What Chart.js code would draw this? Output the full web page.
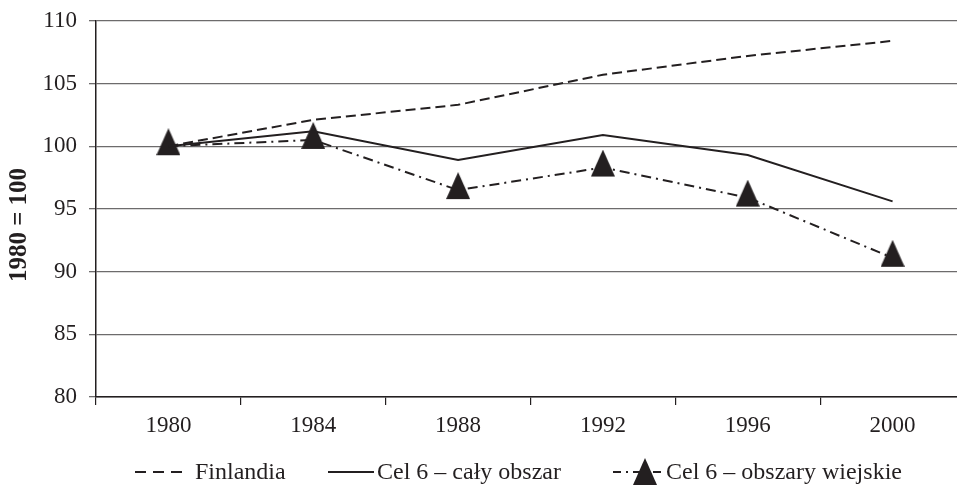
<!DOCTYPE html>
<html>
<head>
<meta charset="utf-8">
<script src="https://cdn.jsdelivr.net/npm/chart.js@4.4.0/dist/chart.umd.min.js"></script>
<style>
  html, body { margin: 0; padding: 0; background: #fff; overflow: hidden; }
  #wrap { width: 957px; height: 485px; position: relative; overflow: hidden; }
  #wykres { position: absolute; left: 0; top: -5px; }
</style>
</head>
<body>
<div id="wrap"><canvas id="wykres" width="980" height="490"></canvas></div>
<script>
// dane (1980 = 100)
const lata = ["1980", "1984", "1988", "1992", "1996", "2000"];
const finlandia = [100, 102.1, 103.3, 105.7, 107.2, 108.4];
const celCaly = [100, 101.2, 98.9, 100.9, 99.3, 95.6];
const celWiejskie = [100, 100.5, 96.5, 98.3, 95.9, 91.1];

const FONT = "'Liberation Serif', 'Times New Roman', serif";
const CZARNY = "#231f20";

// trójkąt jako znacznik (środek ciężkości w punkcie danych)
function trojkat(w, h) {
  const c = document.createElement("canvas");
  c.width = w;
  c.height = Math.round(h * 4 / 3);
  const cy = c.height / 2;
  const g = c.getContext("2d");
  g.fillStyle = CZARNY;
  g.beginPath();
  g.moveTo(w / 2, cy - h * 2 / 3);
  g.lineTo(w, cy + h / 3);
  g.lineTo(0, cy + h / 3);
  g.closePath();
  g.fill();
  return c;
}
const znacznik = trojkat(24, 27);

// pozycje legendy: początek próbki, długość próbki, początek tekstu
const legendaX = [[135, 47, 195], [328, 46, 377], [613, 50, 666]];

const legenda = {
  id: "legenda",
  afterDraw(chart) {
    const ctx = chart.ctx;
    const y = 477; // 472 na ekranie (canvas przesunięty o 5 px)
    ctx.save();
    ctx.font = "24px " + FONT;
    ctx.fillStyle = CZARNY;
    ctx.textBaseline = "middle";
    chart.data.datasets.forEach((d, i) => {
      const [x0, dl, xt] = legendaX[i];
      ctx.strokeStyle = d.borderColor;
      ctx.lineWidth = d.borderWidth;
      ctx.setLineDash(d.legendDash || d.borderDash || []);
      ctx.beginPath();
      ctx.moveTo(x0, y);
      ctx.lineTo(x0 + dl, y);
      ctx.stroke();
      ctx.setLineDash([]);
      if (d.pointStyle && typeof d.pointStyle === "object") {
        const img = d.pointStyle;
        ctx.drawImage(img, x0 + dl * 0.64 - img.width / 2, y + 4 - img.height / 2);
      }
      ctx.fillText(d.label, xt, y + 1);
    });
    // tytuł osi Y
    ctx.font = "bold 25px " + FONT;
    ctx.translate(20, 230);
    ctx.rotate(-Math.PI / 2);
    ctx.textAlign = "center";
    ctx.fillText("1980 = 100", 0, 0);
    ctx.restore();
  }
};

new Chart(document.getElementById("wykres"), {
  type: "line",
  data: {
    labels: lata,
    datasets: [
      { label: "Finlandia", data: finlandia, borderColor: CZARNY, borderWidth: 2,
        borderDash: [10, 5], legendDash: [11, 7], pointRadius: 0, tension: 0 },
      { label: "Cel 6 – cały obszar", data: celCaly, borderColor: CZARNY, borderWidth: 2,
        pointRadius: 0, tension: 0 },
      { label: "Cel 6 – obszary wiejskie", data: celWiejskie, borderColor: CZARNY, borderWidth: 2,
        borderDash: [10, 5, 2, 5], legendDash: [8, 5, 2, 5], pointStyle: znacznik, pointRadius: 13, tension: 0 },
    ],
  },
  options: {
    responsive: false,
    animation: false,
    devicePixelRatio: 1,
    layout: { padding: { top: 15, right: 0, left: 0, bottom: 0 } },
    plugins: { legend: { display: false }, tooltip: { enabled: false } },
    scales: {
      x: {
        offset: true,
        grid: { offset: true, drawOnChartArea: false, tickLength: 8, color: CZARNY, lineWidth: 1.2 },
        border: { color: CZARNY, width: 1.5 },
        ticks: { color: CZARNY, font: { family: FONT, size: 23 }, padding: 7 },
        afterFit: (s) => { s.height = 88; },
      },
      y: {
        min: 80, max: 110,
        ticks: { stepSize: 5, color: CZARNY, font: { family: FONT, size: 23 }, padding: 12 },
        grid: { color: "#6d6b6c", lineWidth: 1.3, tickLength: 7 },
        border: { color: CZARNY, width: 1.5 },
        afterFit: (s) => { s.width = 96; },
      },
    },
  },
  plugins: [legenda],
});
</script>
</body>
</html>
